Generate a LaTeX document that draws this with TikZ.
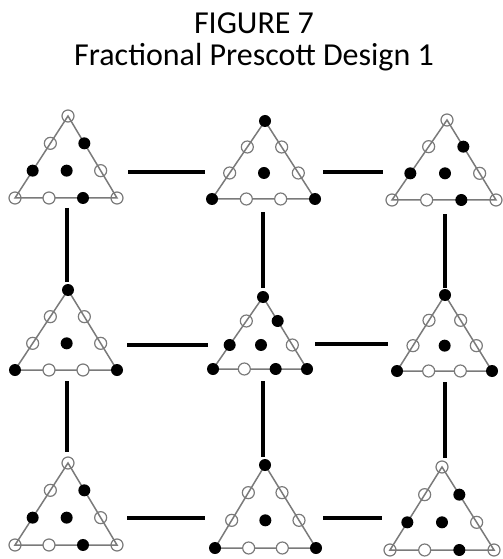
\documentclass[tikz,border=0pt]{standalone}
\usepackage{fontspec}
\setmainfont{Carlito}
\usetikzlibrary{calc}

\definecolor{edgegray}{HTML}{7A7A7A}

\tikzset{
  edge/.style={draw=edgegray, line width=1.5bp},
  link/.style={draw=black, line width=3.2bp},
  dot/.style={circle, inner sep=0pt, minimum size=12bp},
  pt f/.style={dot, fill=black},
  pt o/.style={dot, draw=edgegray, line width=1.2bp},
  pt w/.style={dot, draw=edgegray, fill=white, line width=1.2bp},
  title/.style={font=\fontsize{32bp}{38bp}\selectfont, inner sep=0pt},
}

% Simplex-lattice {3,3}: #1 name, #2 apex, #3 lower left, #4 lower right,
% #5 list of ten point styles (f filled, o open, w open on a white ground),
% in the order apex, left edge down, base left to right, right edge up, centroid.
\newcommand\simplex[5]{%
  \coordinate (#1T) at #2;
  \coordinate (#1L) at #3;
  \coordinate (#1R) at #4;
  \draw[edge] (#1T) -- (#1L) -- (#1R) -- cycle;
  \foreach \s [count=\i] in {#5} {%
    \pgfmathsetmacro\wa{{3,2,1,0,0,0,0,1,2,1}[\i-1]/3}%
    \pgfmathsetmacro\wb{{0,1,2,3,2,1,0,0,0,1}[\i-1]/3}%
    \pgfmathsetmacro\wc{{0,0,0,0,1,2,3,2,1,1}[\i-1]/3}%
    \node[pt \s] (#1-\i) at ($\wa*(#1T) + \wb*(#1L) + \wc*(#1R)$) {};
  }%
}

\begin{document}
\begin{tikzpicture}[x=1bp, y=-1bp]
\useasboundingbox (0,0) rectangle (503,559);

\node[title] (head) at (254,23) {FIGURE 7};
\node[title] (sub) at (254,57) {Fractional Prescott Design 1};

% first row
\simplex{a}{(68,116)}{(15,198)}{(117,198)}{o,o,f,o,w,f,o,o,f,f}
\simplex{b}{(265,121)}{(212,199)}{(315,199)}{f,o,o,f,w,w,f,o,o,f}
\simplex{c}{(447,120)}{(392,200)}{(496,200)}{o,o,f,o,w,f,o,o,f,f}
% second row
\simplex{d}{(68,290)}{(15,370)}{(117,370)}{f,o,o,f,w,w,f,o,o,f}
\simplex{e}{(263,297)}{(213,369)}{(307,369)}{f,o,f,f,w,f,f,o,f,f}
\simplex{g}{(445,295)}{(397,371)}{(492,371)}{f,o,o,f,w,w,f,o,o,f}
% third row
\simplex{h}{(68,463)}{(15,545)}{(117,545)}{o,o,f,o,w,f,o,o,f,f}
\simplex{k}{(265,465)}{(215,548)}{(316,548)}{f,o,o,f,w,w,f,o,o,f}
\simplex{m}{(442,467)}{(390,550)}{(494,550)}{o,o,f,o,w,f,o,o,f,f}

% ends of the links between neighbouring designs
\coordinate (ab1) at (128,172); \coordinate (ab2) at (205,172);
\coordinate (bc1) at (323,172); \coordinate (bc2) at (383,172);
\coordinate (de1) at (127,345); \coordinate (de2) at (208,345);
\coordinate (eg1) at (315,344); \coordinate (eg2) at (388,344);
\coordinate (hk1) at (127,518); \coordinate (hk2) at (205,518);
\coordinate (km1) at (323,518); \coordinate (km2) at (382,518);
\coordinate (ad1) at (67,208);  \coordinate (ad2) at (67,282);
\coordinate (dh1) at (67,381);  \coordinate (dh2) at (67,452);
\coordinate (be1) at (263,212); \coordinate (be2) at (263,288);
\coordinate (ek1) at (263,381); \coordinate (ek2) at (263,457);
\coordinate (cg1) at (445,214); \coordinate (cg2) at (445,288);
\coordinate (gm1) at (445,382); \coordinate (gm2) at (445,458);

\foreach \p in {ab,bc,de,eg,hk,km,ad,dh,be,ek,cg,gm}
  \draw[link] (\p1) -- (\p2);
\end{tikzpicture}
\end{document}
